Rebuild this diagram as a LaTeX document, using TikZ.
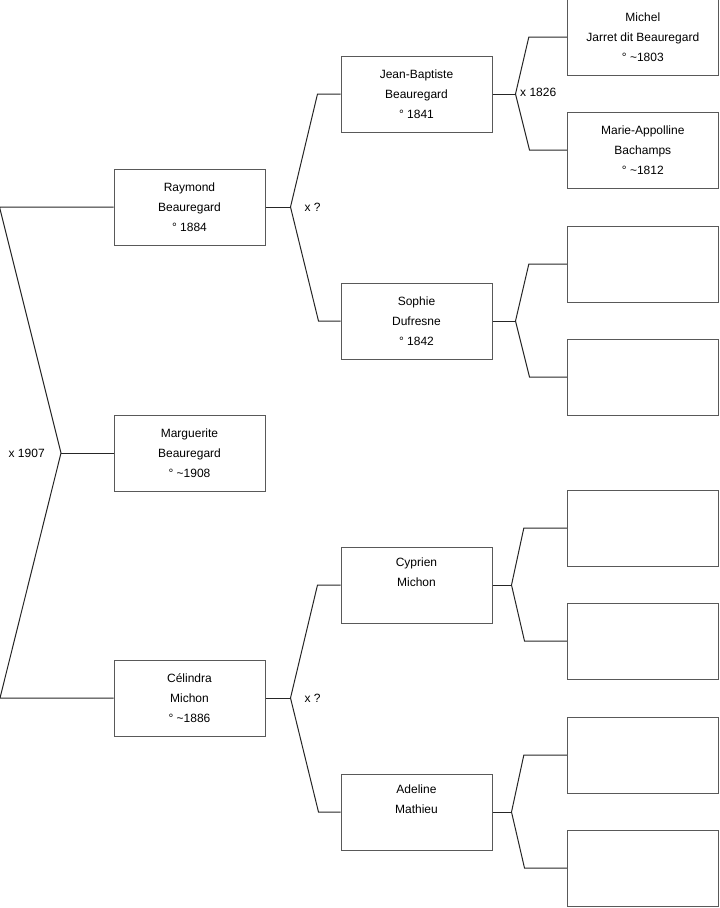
\documentclass[tikz,border=0pt]{standalone}
\usepackage{fontspec}
\setmainfont{Liberation Sans}
\usetikzlibrary{positioning}

\tikzset{
  person/.style={draw=black!65, rectangle, line width=0.75pt,
                 minimum width=113.25pt, minimum height=57pt,
                 align=center, font=\fontsize{9}{15}\selectfont},
  link/.style={draw=black!85, line width=0.75pt},
  union/.style={font=\fontsize{9}{11}\selectfont}
}

\begin{document}
\begin{tikzpicture}[x=0.75pt, y=-0.75pt, node distance=170.25pt]
  \useasboundingbox (0,0) rectangle (719,908);

  \node (raymond)    [person] at (189.5,207) {Raymond\\Beauregard\\° 1884};
  \node (marguerite) [person] at (189.5,453) {Marguerite\\Beauregard\\° \textasciitilde1908};
  \node (celindra)   [person] at (189.5,698) {Célindra\\Michon\\° \textasciitilde1886};

  \node (jb)      [person, right of=raymond, yshift=84.75pt]
                  {Jean-Baptiste\\Beauregard\\° 1841};
  \node (sophie)  [person, right of=raymond, yshift=-85.5pt]
                  {Sophie\\Dufresne\\° 1842};
  \node (cyprien) [person, right of=celindra, yshift=84.75pt]
                  {Cyprien\\Michon\\\strut};
  \node (adeline) [person, right of=celindra, yshift=-85.5pt]
                  {Adeline\\Mathieu\\\strut};

  \node (michel) [person, right of=jb, xshift=-0.5pt, yshift=42.75pt]
                 {Michel\\Jarret dit Beauregard\\° \textasciitilde1803};
  \node (marie)  [person, right of=jb, xshift=-0.5pt, yshift=-42pt]
                 {Marie-Appolline\\Bachamps\\° \textasciitilde1812};
  \node (e1) [person, right of=sophie,  xshift=-0.5pt, yshift=42.75pt] {};
  \node (e2) [person, right of=sophie,  xshift=-0.5pt, yshift=-42pt] {};
  \node (e3) [person, right of=cyprien, xshift=-0.5pt, yshift=42.75pt] {};
  \node (e4) [person, right of=cyprien, xshift=-0.5pt, yshift=-42pt] {};
  \node (e5) [person, right of=adeline, xshift=-0.5pt, yshift=42.75pt] {};
  \node (e6) [person, right of=adeline, xshift=-0.5pt, yshift=-42pt] {};

  % marriage forks
  \coordinate (m1) at (61,453);
  \coordinate (m2) at ([xshift=18.75pt]raymond.east);
  \coordinate (m3) at ([xshift=17.25pt]jb.east);
  \coordinate (m4) at ([xshift=18.75pt]celindra.east);
  \coordinate (m5) at ([xshift=17.25pt]sophie.east);
  \coordinate (m6) at ([xshift=14.25pt]cyprien.east);
  \coordinate (m7) at ([xshift=14.25pt]adeline.east);

  \node (u1) [union, left=8.7pt of m1] {x 1907};
  \node (u2) [union, right=7pt of m2] {x ?};
  \node (u3) [union, right=0pt of m3, yshift=1.5pt] {x 1826};
  \node (u4) [union, right=7pt of m4] {x ?};

  \draw[link] (raymond.west) -- ++(-114,0) -- (m1) -- ++(-61,245) -- (celindra.west);
  \draw[link] (m1) -- (marguerite.west);

  \draw[link] (raymond.east) -- (m2);
  \draw[link] (jb.west) -- ++(-23,0) -- (m2) -- ++(28,114) -- (sophie.west);
  \draw[link] (celindra.east) -- (m4);
  \draw[link] (cyprien.west) -- ++(-23,0) -- (m4) -- ++(28,114) -- (adeline.west);

  \draw[link] (jb.east) -- (m3);
  \draw[link] (michel.west) -- ++(-38,0) -- (m3) -- ++(14,56) -- (marie.west);
  \draw[link] (sophie.east) -- (m5);
  \draw[link] (e1.west) -- ++(-38,0) -- (m5) -- ++(14,56) -- (e2.west);
  \draw[link] (cyprien.east) -- (m6);
  \draw[link] (e3.west) -- ++(-43,0) -- (m6) -- ++(13,56) -- (e4.west);
  \draw[link] (adeline.east) -- (m7);
  \draw[link] (e5.west) -- ++(-43,0) -- (m7) -- ++(13,56) -- (e6.west);
\end{tikzpicture}
\end{document}
